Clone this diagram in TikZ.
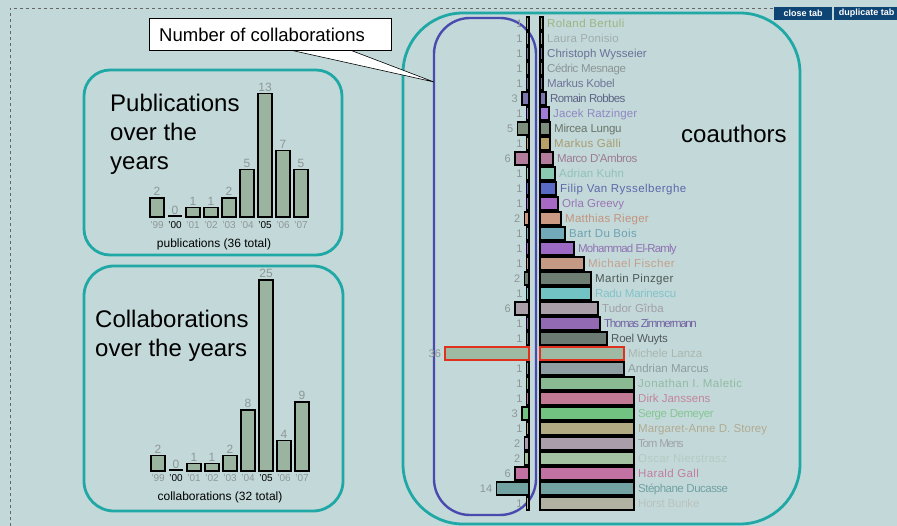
\documentclass[tikz,border=0pt]{standalone}
\usepackage{fontspec}
\setmainfont{Liberation Sans}
\definecolor{bgc}{HTML}{C3D9D9}
\definecolor{tealc}{HTML}{1FA8A6}
\definecolor{bluec}{HTML}{4A4AAE}
\definecolor{barc}{HTML}{9AB4A0}
\definecolor{lblc}{HTML}{8E9696}
\definecolor{btnc}{HTML}{0F4574}
\definecolor{redc}{HTML}{E0301E}
\tikzset{
  panel/.style={draw=tealc, line width=2.8pt},
  bluepanel/.style={draw=bluec, line width=2.4pt},
  bar/.style={draw=black, line width=1.3pt},
  chartbar/.style={draw=black, line width=1.5pt, fill=barc},
  title/.style={font=\fontsize{24}{29}\selectfont, inner sep=0pt, text=black},
  vlabel/.style={font=\fontsize{12}{13}\selectfont, text=lblc, inner sep=0pt},
  ylabel/.style={font=\fontsize{10}{12}\selectfont, inner sep=0pt},
  caption/.style={font=\fontsize{12}{13}\selectfont, inner sep=0pt, text=black},
  namelbl/.style={font=\fontsize{11.5}{13}\selectfont, inner sep=0pt, anchor=base west},
  cntlbl/.style={font=\fontsize{11}{12}\selectfont, inner sep=0pt, anchor=base east, text=lblc},
  btn/.style={fill=btnc, text=white, font=\bfseries\fontsize{9}{10}\selectfont, minimum height=13pt, inner sep=0pt},
}
\begin{document}
\begin{tikzpicture}[x=1pt,y=-1pt]
\useasboundingbox (0,0) rectangle (897,526);
\begin{scope}
\clip (0,0) rectangle (897,526);
\fill[bgc] (0,0) rectangle (897,526);
\draw[dashed, draw=gray!80!black, line width=0.5pt] (10,526) -- (10,8) -- (773,8);
% buttons
\node[btn, minimum width=58pt] (closetab) at (803,13.5) {close tab};
\node[btn, minimum width=64pt, anchor=west] (duptab) at (834,13.5) {\hspace*{1pt}duplicate tab};

% panels
\draw[panel, rounded corners=26pt] (84,70) rectangle (342,255);
\draw[panel, rounded corners=30pt] (84,266) rectangle (343,511);
\draw[panel, rounded corners=60pt] (403,13) rectangle (800,524);
\draw[bluepanel, rounded corners=36pt] (434,18) rectangle (536,515);

% titles
\node[title, anchor=base west] (pt1) at (110,112) {Publications};
\node[title, anchor=base west] (pt2) at (110,141) {over the};
\node[title, anchor=base west] (pt3) at (110,170) {years};
\node[title, anchor=base west] (ct1) at (95,328) {Collaborations};
\node[title, anchor=base west] (ct2) at (95,357) {over the years};
\node[title, anchor=base west] (coa) at (681,143) {coauthors};

% publications chart
\foreach \v [count=\i from 0] in {2,0,1,1,2,5,13,7,5}{
  \pgfmathsetmacro\xx{150+18*\i}
  \ifnum\v>0
    \draw[chartbar] (\xx,{217-\v*9.5}) rectangle ({\xx+14},217);
  \else
    \draw[black, line width=2pt] (\xx,216) -- ({\xx+14},216);
  \fi
  \node[vlabel, anchor=south] (pv\i) at ({\xx+7},{217-\v*9.5-2}) {\v};
}
\foreach \y/\c [count=\i from 0] in {99/lblc,00/black,01/lblc,02/lblc,03/lblc,04/lblc,05/black,06/lblc,07/lblc}{
  \node[ylabel, text=\c] (py\i) at ({157+18*\i},225) {'\y};
}
\node[caption] (pcap) at (214,244) {publications (36 total)};

% collaborations chart
\foreach \v [count=\i from 0] in {2,0,1,1,2,8,25,4,9}{
  \pgfmathsetmacro\xx{151+18*\i}
  \ifnum\v>0
    \draw[chartbar] (\xx,{471-\v*7.64}) rectangle ({\xx+14},471);
  \else
    \draw[black, line width=2pt] (\xx,470) -- ({\xx+14},470);
  \fi
  \node[vlabel, anchor=south] (cv\i) at ({\xx+7},{471-\v*7.64-2}) {\v};
}
\foreach \y/\c [count=\i from 0] in {99/lblc,00/black,01/lblc,02/lblc,03/lblc,04/lblc,05/black,06/lblc,07/lblc}{
  \node[ylabel, text=\c] (cy\i) at ({158+18*\i},478) {'\y};
}
\node[caption] (ccap) at (220,497) {collaborations (32 total)};

% coauthor rows: name / count / right width / bar colour / text colour / letter spacing
\foreach \nm/\c/\w/\bc/\tc/\ls [count=\i from 0] in {
 {Roland Bertuli}/1/3/9DB383/9DB383/3.6,
 {Laura Ponisio}/1/3/A0ACAC/A0ACAC/1,
 {Christoph Wysseier}/1/3/70769A/6A7098/0,
 {Cédric Mesnage}/1/3/8C9496/8C9496/-3.5,
 {Markus Kobel}/1/3/72789A/6E7498/-2.4,
 {Romain Robbes}/3/6/7C76B0/5E6286/-5.7,
 {Jacek Ratzinger}/1/9/A07CD8/9086C4/1,
 {Mircea Lungu}/5/10/7E8E7C/6A7468/-2,
 {Markus Gälli}/1/10/B9A068/A89C70/2.5,
 {Marco D'Ambros}/6/13/B27C9C/9C7A92/-4,
 {Adrian Kuhn}/1/15/8ACAB2/8EC2B6/1.5,
 {Filip Van Rysselberghe}/1/16/5A6AC4/5A68AA/4,
 {Orla Greevy}/1/18/A66AC4/9A74B6/0,
 {Matthias Rieger}/2/21/CC9A82/C2947E/2,
 {Bart Du Bois}/1/25/72AABA/6CA2B2/3,
 {Mohammad El-Ramly}/1/34/9C6AC4/8E72B2/-7,
 {Michael Fischer}/1/44/C49A84/C4A08C/4,
 {Martin Pinzger}/2/51/6E7E72/4E5856/3,
 {Radu Marinescu}/1/51/72C4C4/82C2CA/-2,
 {Tudor Gîrba}/6/58/AA9EA8/A29EA8/0,
 {Thomas Zimmermann}/1/60/926AB4/7462A2/-11.5,
 {Roel Wuyts}/1/67/6C7A74/52595C/-2,
 {Michele Lanza}/36/84/9EBAA2/AAB6AE/0,
 {Andrian Marcus}/1/84/8E9EA2/8E9C9E/0,
 {Jonathan I. Maletic}/1/94/8ABA92/92BAA2/4,
 {Dirk Janssens}/1/94/C27A94/C2849C/0,
 {Serge Demeyer}/3/94/72C282/84C692/-4,
 {Margaret-Anne D. Storey}/1/94/B2AA82/B2AA92/0.5,
 {Tom Mens}/2/94/AA9EAA/A2A2AA/-11,
 {Oscar Nierstrasz}/2/94/A2C2A2/B2CAC2/2,
 {Harald Gall}/6/94/C272A2/C27CA2/3,
 {Stéphane Ducasse}/14/94/72A2A2/70A0A2/-4.5,
 {Horst Bunke}/1/94/B2B2A2/BAC2BE/-2}{
  \pgfmathsetmacro\yc{23.5+15*\i}
  \pgfmathsetmacro\lw{\c*2.33}
  \definecolor{curbar}{HTML}{\bc}
  \definecolor{curtxt}{HTML}{\tc}
  \ifnum\c=36
    \draw[draw=redc, line width=1.3pt, fill=curbar] ({529-\lw},{\yc-6.5}) rectangle (529,{\yc+6.5});
    \draw[draw=redc, line width=1.3pt, fill=curbar] (540,{\yc-6.5}) rectangle ({540+\w},{\yc+6.5});
  \else
    \draw[bar, fill=curbar] ({529-\lw},{\yc-6.5}) rectangle (529,{\yc+6.5});
    \draw[bar, fill=curbar] (540,{\yc-6.5}) rectangle ({540+\w},{\yc+6.5});
  \fi
  \node[namelbl, text=curtxt] (n\i) at ({540+\w+4},{\yc+4.2}) {\addfontfeatures{LetterSpace=\ls}\nm};
  \node[cntlbl] (c\i) at ({529-\lw-4},{\yc+4}) {\c};
}

% callout
\coordinate (tip) at (434,82);
\coordinate (t1) at (290,50);
\coordinate (t2) at (350,50);
\draw[fill=white, line width=0.6pt] (t1) -- (tip) -- (t2);
\node[draw=black, fill=white, line width=0.6pt, minimum width=242pt, minimum height=32pt, inner sep=0pt] (cbox) at (270,34) {};
\node[font=\fontsize{18.5}{20}\selectfont, anchor=base west, inner sep=0pt] (ctext) at (159,42) {Number of collaborations};
\end{scope}
\end{tikzpicture}
\end{document}
